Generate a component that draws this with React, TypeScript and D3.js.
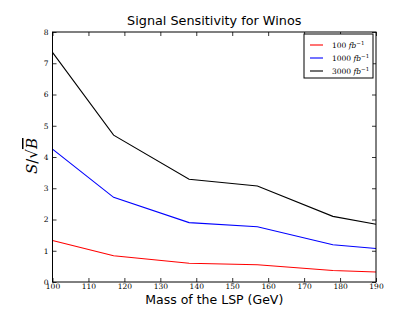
import React, { useRef, useEffect } from 'react';
import * as d3 from 'd3';

const masses = [100, 117, 138, 157, 178, 190];
const lumi100 = [1.33, 0.84, 0.6, 0.55, 0.37, 0.32];
const lumi1000 = [4.25, 2.71, 1.9, 1.77, 1.19, 1.07];
const lumi3000 = [7.35, 4.7, 3.29, 3.07, 2.1, 1.85];
const seriesLabels = ['100', '1000', '3000'];
const seriesColors = ['#ff0000', '#0000ff', '#000000'];
const xTicks = [100, 110, 120, 130, 140, 150, 160, 170, 180, 190];
const yTicks = [0, 1, 2, 3, 4, 5, 6, 7, 8];

function App() {
  const svgRef = useRef<SVGSVGElement>(null);

  useEffect(() => {
    const W = 418, H = 314;
    const margin = { top: 32, right: 42, bottom: 32, left: 52.5 };
    const width = W - margin.left - margin.right;
    const height = H - margin.top - margin.bottom;

    const svg = d3.select(svgRef.current);
    svg.selectAll('*').remove();
    svg.attr('width', W).attr('height', H);

    const g = svg.append('g').attr('transform', `translate(${margin.left},${margin.top})`);

    const x = d3.scaleLinear().domain([100, 190]).range([0, width]);
    const y = d3.scaleLinear().domain([0, 8]).range([height, 0]);

    const series = [lumi100, lumi1000, lumi3000];
    const line = d3.line<number>()
      .x((d, i) => x(masses[i]))
      .y(d => y(d));

    series.forEach((s, k) => {
      g.append('path')
        .datum(s)
        .attr('fill', 'none')
        .attr('stroke', seriesColors[k])
        .attr('stroke-width', 1.1)
        .attr('d', line);
    });

    // frame
    g.append('rect')
      .attr('width', width).attr('height', height)
      .attr('fill', 'none').attr('stroke', '#000').attr('stroke-width', 1);

    const tickFont = 'DejaVu Serif';
    // inward ticks on all four sides
    const xb = d3.axisBottom(x).tickValues(xTicks).tickSizeInner(-4).tickSizeOuter(0).tickPadding(2);
    const xt = d3.axisTop(x).tickValues(xTicks).tickSizeInner(-4).tickSizeOuter(0).tickFormat(() => '');
    const yl = d3.axisLeft(y).tickValues(yTicks).tickSizeInner(-4).tickSizeOuter(0).tickPadding(4);
    const yr = d3.axisRight(y).tickValues(yTicks).tickSizeInner(-4).tickSizeOuter(0).tickFormat(() => '');

    const gx = g.append('g').attr('transform', `translate(0,${height})`).call(xb);
    g.append('g').call(xt);
    const gy = g.append('g').call(yl);
    g.append('g').attr('transform', `translate(${width},0)`).call(yr);

    g.selectAll('.domain').remove();
    g.selectAll('.tick line').attr('stroke', '#000').attr('stroke-width', 0.8);
    [gx, gy].forEach(a => a.selectAll('text')
      .attr('font-family', tickFont)
      .attr('font-size', 7.5)
      .attr('fill', '#000'));

    // title
    svg.append('text')
      .attr('x', margin.left + width / 2).attr('y', 25)
      .attr('text-anchor', 'middle')
      .attr('font-family', 'DejaVu Sans').attr('font-size', 12.8)
      .text('Signal Sensitivity for Winos');

    // x label
    svg.append('text')
      .attr('x', margin.left + width / 2).attr('y', 303.5)
      .attr('text-anchor', 'middle')
      .attr('font-family', 'DejaVu Sans').attr('font-size', 12.5)
      .text('Mass of the LSP (GeV)');

    // y label: S/sqrt(B)
    const yl2 = svg.append('g').attr('transform', `translate(37,${margin.top + height / 2 - 1}) rotate(-90)`);
    const yt = yl2.append('text')
      .attr('text-anchor', 'middle')
      .attr('font-family', 'DejaVu Serif').attr('font-size', 15);
    yt.append('tspan').attr('font-style', 'italic').text('S');
    yt.append('tspan').text('/√');
    yt.append('tspan').attr('font-style', 'italic').attr('text-decoration', 'overline').text('B');

    // legend
    const lg = g.append('g').attr('transform', `translate(${width - 72},2)`);
    lg.append('rect')
      .attr('width', 69).attr('height', 44)
      .attr('fill', '#fff').attr('stroke', '#000').attr('stroke-width', 1);
    seriesLabels.forEach((lab, k) => {
      const yy = 11 + k * 13;
      lg.append('line')
        .attr('x1', 6).attr('x2', 19).attr('y1', yy).attr('y2', yy)
        .attr('stroke', seriesColors[k]).attr('stroke-width', 1.1);
      const t = lg.append('text')
        .attr('x', 28).attr('y', yy + 3)
        .attr('font-family', tickFont).attr('font-size', 7.5);
      t.append('tspan').text(lab + ' ');
      t.append('tspan').attr('font-style', 'italic').text('fb');
      t.append('tspan').attr('font-size', 5.5).attr('dy', -3.5).text('−1');
    });
  }, []);

  return <svg ref={svgRef} style={{ position: 'absolute', left: 0, top: 0 }}></svg>;
}

export default App;
